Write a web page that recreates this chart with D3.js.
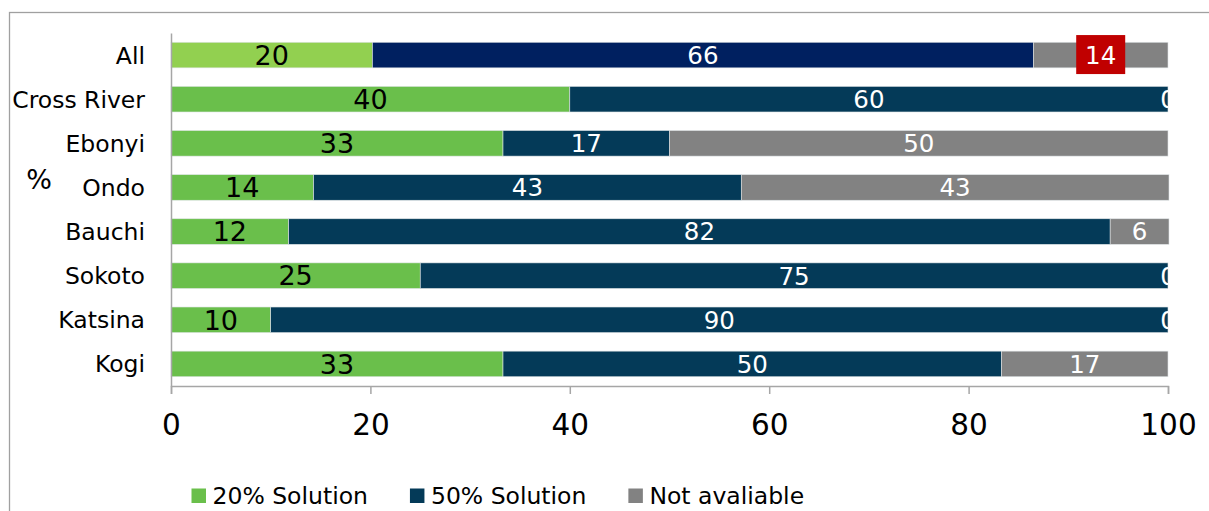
<!DOCTYPE html>
<html>
<head>
<meta charset="utf-8">
<script src="https://cdn.jsdelivr.net/npm/d3@7"></script>
<style>
  html, body { margin: 0; padding: 0; background: #ffffff; }
  svg { display: block; }
  text { font-family: "DejaVu Sans", sans-serif; }
</style>
</head>
<body>
<div id="chart"></div>
<script>
// Share of facilities by ORS solution type, per state (stacked to 100%)
const categories = ["All", "Cross River", "Ebonyi", "Ondo", "Bauchi", "Sokoto", "Katsina", "Kogi"];
const seriesNames = ["20% Solution", "50% Solution", "Not avaliable"];
const solution20 = [20.2, 40, 33.3, 14.3, 11.8, 25, 10, 33.3];
const solution50 = [66.3, 60, 16.7, 42.9, 82.4, 75, 90, 50];
const notAvailable = [13.5, 0, 50, 42.9, 5.9, 0, 0, 16.7];
const xTicks = [0, 20, 40, 60, 80, 100];
const axisTitle = "%";

const width = 1209, height = 511;
const margin = { left: 171, right: 41, top: 33, bottom: 125 };

const colors = ["#6abf4b", "#043a58", "#828282"];        // state rows
const totalColors = ["#92d050", "#002060", "#828282"];   // "All" row
const labelColors = ["#000000", "#ffffff", "#ffffff"];
const labelSizes = [27, 24.5, 24.5];
const calloutColor = "#c00000";

const svg = d3.select("#chart").append("svg")
  .attr("width", width)
  .attr("height", height);

// outer chart frame
svg.append("rect")
  .attr("x", 9.5).attr("y", 12.5)
  .attr("width", width + 20).attr("height", height + 20)
  .attr("fill", "none")
  .attr("stroke", "#a0a0a0")
  .attr("stroke-width", 1.3);

const x = d3.scaleLinear().domain([0, 100]).range([margin.left, width - margin.right]);
const y = d3.scaleBand().domain(categories)
  .range([margin.top, height - margin.bottom])
  .paddingInner(0.42).paddingOuter(0.21);

// stacked rows
const rows = categories.map((c, i) => {
  const vals = [solution20[i], solution50[i], notAvailable[i]];
  let acc = 0;
  return vals.map((v, k) => {
    const seg = { cat: c, row: i, k, v, x0: acc, x1: acc + v };
    acc += v;
    return seg;
  });
});
const segments = rows.flat();

svg.append("defs").append("clipPath").attr("id", "plot-clip")
  .append("rect")
  .attr("x", x(0)).attr("y", 0)
  .attr("width", x(100) - x(0)).attr("height", height);

svg.append("g").selectAll("rect")
  .data(segments.filter(d => d.v > 0))
  .join("rect")
  .attr("x", d => x(d.x0))
  .attr("y", d => y(d.cat))
  .attr("width", d => x(d.x1) - x(d.x0))
  .attr("height", y.bandwidth())
  .attr("fill", d => (d.row === 0 ? totalColors : colors)[d.k])
  .attr("stroke", "#dfe4e6")
  .attr("stroke-width", 0.6);

// callout box behind the "All" not-available label
const callout = segments.find(d => d.row === 0 && d.k === 2);
svg.append("rect")
  .attr("x", x((callout.x0 + callout.x1) / 2) - 24.5)
  .attr("y", y(callout.cat) + y.bandwidth() / 2 - 20)
  .attr("width", 49)
  .attr("height", 39)
  .attr("fill", calloutColor);

// value labels, centred in each segment and clipped to the plot
const fmt = d3.format(".0f");
svg.append("g").attr("clip-path", "url(#plot-clip)")
  .selectAll("text")
  .data(segments)
  .join("text")
  .attr("x", d => x((d.x0 + d.x1) / 2))
  .attr("y", d => y(d.cat) + y.bandwidth() / 2)
  .attr("dy", "0.36em")
  .attr("text-anchor", "middle")
  .attr("font-size", d => labelSizes[d.k])
  .attr("fill", d => labelColors[d.k])
  .text(d => fmt(d.v));

// category axis
const yAxis = svg.append("g")
  .attr("transform", `translate(${x(0)},0)`)
  .call(d3.axisLeft(y).tickSize(0).tickPadding(26));
yAxis.select(".domain").attr("stroke", "#a6a6a6").attr("stroke-width", 1.5);
yAxis.selectAll("text")
  .attr("font-size", 23.5)
  .attr("fill", "#000")
  .attr("dy", "0.36em");

// value axis
const xAxis = svg.append("g")
  .attr("transform", `translate(0,${height - margin.bottom})`)
  .call(d3.axisBottom(x).tickValues(xTicks).tickSize(8).tickSizeOuter(8).tickFormat(d3.format("d")));
xAxis.select(".domain").attr("stroke", "#a6a6a6").attr("stroke-width", 1.5);
xAxis.selectAll(".tick line").attr("stroke", "#a6a6a6").attr("stroke-width", 1.5);
xAxis.selectAll("text")
  .attr("font-size", 29.5)
  .attr("fill", "#000")
  .attr("y", 38)
  .attr("dy", "0.36em");

// axis title
svg.append("text")
  .attr("x", 39)
  .attr("y", 179)
  .attr("dy", "0.36em")
  .attr("text-anchor", "middle")
  .attr("font-size", 27)
  .attr("fill", "#000")
  .text(axisTitle);

// legend
const legend = svg.append("g").attr("transform", "translate(0,496)");
let lx = 191.5;
seriesNames.forEach((name, i) => {
  legend.append("rect")
    .attr("x", lx).attr("y", -7.5)
    .attr("width", 14.5).attr("height", 14.5)
    .attr("fill", colors[i]);
  const t = legend.append("text")
    .attr("x", lx + 21)
    .attr("y", 0)
    .attr("dy", "0.36em")
    .attr("font-size", 23.5)
    .attr("fill", "#000")
    .text(name);
  lx += 21 + t.node().getComputedTextLength() + 42;
});
</script>
</body>
</html>
